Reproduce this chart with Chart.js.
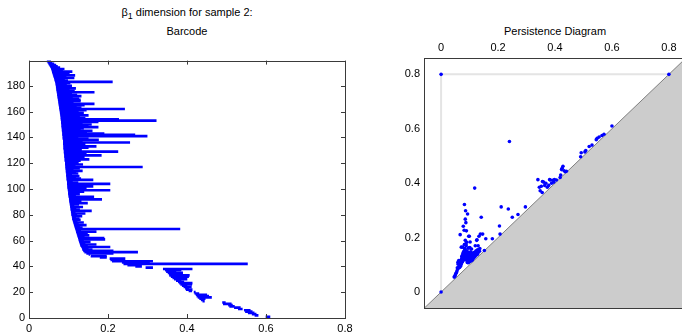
<!DOCTYPE html>
<html>
<head>
<meta charset="utf-8">
<script src="https://cdn.jsdelivr.net/npm/chart.js@4.4.1/dist/chart.umd.min.js"></script>
<style>
  html, body { margin: 0; padding: 0; background: #fff; }
  body { width: 682px; height: 333px; overflow: hidden; position: relative; font-family: "Liberation Sans", Arial, sans-serif; }
  .title { position: absolute; font-size: 11px; color: #000; text-align: center; line-height: 19px; }
  .title sub { font-size: 9px; vertical-align: -3px; line-height: 0; }
  #barBox { position: absolute; left: 0; top: 50px; width: 360px; height: 283px; }
  #pdBox { position: absolute; left: 395px; top: 40px; width: 301px; height: 279px; }
</style>
</head>
<body>
<div class="title" style="left:29px; width:316px; top:3px;">&beta;<sub>1</sub> dimension for sample 2:<br>Barcode</div>
<div class="title" style="left:424px; width:262px; top:22px;">Persistence Diagram</div>
<div id="barBox"><canvas id="barCanvas"></canvas></div>
<div id="pdBox"><canvas id="pdCanvas"></canvas></div>
<script>
// birth / death of each beta_1 interval, bar 1 at the bottom of the barcode
const barBirth = [
  0.600, 0.572, 0.565, 0.555, 0.548, 0.545, 0.530, 0.520, 0.508, 0.505,
  0.492, 0.490, 0.440, 0.436, 0.432, 0.428, 0.425, 0.423, 0.420, 0.418,
  0.405, 0.398, 0.396, 0.392, 0.388, 0.384, 0.381, 0.378, 0.373, 0.368,
  0.364, 0.360, 0.356, 0.355, 0.352, 0.348, 0.345, 0.340, 0.296, 0.270,
  0.250, 0.240, 0.236, 0.211, 0.207, 0.205, 0.180, 0.157, 0.152, 0.146,
  0.141, 0.138, 0.136, 0.135, 0.133, 0.131, 0.130, 0.129, 0.128, 0.127,
  0.126, 0.125, 0.124, 0.123, 0.122, 0.121, 0.120, 0.119, 0.118, 0.117,
  0.116, 0.115, 0.114, 0.113, 0.112, 0.111, 0.110, 0.110, 0.109, 0.108,
  0.108, 0.107, 0.107, 0.106, 0.106, 0.105, 0.105, 0.104, 0.104, 0.103,
  0.103, 0.102, 0.102, 0.101, 0.101, 0.100, 0.100, 0.100, 0.099, 0.099,
  0.098, 0.098, 0.098, 0.097, 0.097, 0.097, 0.096, 0.096, 0.096, 0.095,
  0.095, 0.095, 0.094, 0.094, 0.094, 0.093, 0.093, 0.093, 0.092, 0.092,
  0.092, 0.091, 0.091, 0.091, 0.090, 0.090, 0.090, 0.089, 0.089, 0.089,
  0.088, 0.088, 0.088, 0.088, 0.087, 0.087, 0.087, 0.087, 0.086, 0.086,
  0.086, 0.085, 0.085, 0.085, 0.084, 0.084, 0.084, 0.083, 0.083, 0.083,
  0.082, 0.082, 0.082, 0.081, 0.081, 0.081, 0.080, 0.080, 0.079, 0.079,
  0.078, 0.078, 0.077, 0.077, 0.076, 0.076, 0.075, 0.075, 0.074, 0.074,
  0.073, 0.073, 0.072, 0.072, 0.071, 0.071, 0.070, 0.070, 0.069, 0.069,
  0.068, 0.068, 0.067, 0.066, 0.065, 0.064, 0.063, 0.062, 0.061, 0.060,
  0.059, 0.058, 0.057, 0.056, 0.054, 0.052, 0.050, 0.048, 0.046
];
const barDeath = [
  0.610, 0.580, 0.575, 0.570, 0.565, 0.560, 0.540, 0.535, 0.520, 0.515,
  0.512, 0.497, 0.444, 0.442, 0.446, 0.462, 0.455, 0.450, 0.430, 0.421,
  0.412, 0.413, 0.404, 0.411, 0.400, 0.412, 0.413, 0.392, 0.385, 0.400,
  0.392, 0.404, 0.406, 0.366, 0.389, 0.372, 0.385, 0.413, 0.313, 0.285,
  0.275, 0.553, 0.305, 0.313, 0.213, 0.243, 0.196, 0.196, 0.153, 0.213,
  0.275, 0.213, 0.160, 0.150, 0.205, 0.148, 0.170, 0.142, 0.155, 0.138,
  0.192, 0.190, 0.140, 0.152, 0.135, 0.148, 0.170, 0.131, 0.382, 0.135,
  0.128, 0.145, 0.125, 0.138, 0.122, 0.130, 0.127, 0.118, 0.134, 0.121,
  0.142, 0.117, 0.158, 0.128, 0.119, 0.136, 0.114, 0.126, 0.148, 0.115,
  0.132, 0.184, 0.122, 0.164, 0.118, 0.128, 0.112, 0.139, 0.205, 0.121,
  0.145, 0.162, 0.113, 0.205, 0.124, 0.110, 0.162, 0.131, 0.118, 0.127,
  0.108, 0.124, 0.119, 0.135, 0.112, 0.128, 0.287, 0.117, 0.136, 0.125,
  0.109, 0.130, 0.152, 0.121, 0.140, 0.183, 0.126, 0.145, 0.225, 0.133,
  0.118, 0.150, 0.170, 0.128, 0.142, 0.255, 0.135, 0.176, 0.150, 0.124,
  0.299, 0.268, 0.190, 0.146, 0.160, 0.130, 0.138, 0.175, 0.150, 0.158,
  0.135, 0.175, 0.322, 0.227, 0.142, 0.128, 0.150, 0.118, 0.138, 0.125,
  0.145, 0.242, 0.132, 0.120, 0.140, 0.165, 0.112, 0.130, 0.130, 0.126,
  0.110, 0.132, 0.121, 0.108, 0.165, 0.115, 0.102, 0.118, 0.099, 0.108,
  0.095, 0.104, 0.211, 0.098, 0.090, 0.114, 0.094, 0.116, 0.088, 0.102,
  0.109, 0.085, 0.089, 0.078, 0.072, 0.068, 0.063, 0.058, 0.055
];

// guide drawn in the persistence diagram (corner markers + light lines)
const guideX = [0, 0, 0.8];
const guideY = [0, 0.8, 0.8];

const barXTicks = [0, 0.2, 0.4, 0.6, 0.8];
const barYTicks = [0, 20, 40, 60, 80, 100, 120, 140, 160, 180];
const pdTicks = [0, 0.2, 0.4, 0.6, 0.8];
const pdMin = -0.06, pdMax = 0.86;

const tickFont = { family: '"Liberation Sans", Arial, sans-serif', size: 11 };
const blue = '#0000ff';

// box round the axes, with optional inward tick marks (matlab style)
function axesBox(withTicks) {
  return {
    id: 'axesBox',
    afterDraw(chart) {
      const { ctx, chartArea: a, scales } = chart;
      ctx.save();
      ctx.strokeStyle = '#3a3a3a';
      ctx.lineWidth = 1;
      ctx.strokeRect(Math.round(a.left) + 0.5, Math.round(a.top) + 0.5,
                     Math.round(a.right - a.left), Math.round(a.bottom - a.top));
      if (withTicks) {
        const len = 4;
        ctx.beginPath();
        scales.x.ticks.forEach(t => {
          const px = Math.round(scales.x.getPixelForValue(t.value)) + 0.5;
          ctx.moveTo(px, a.bottom); ctx.lineTo(px, a.bottom - len);
          ctx.moveTo(px, a.top); ctx.lineTo(px, a.top + len);
        });
        scales.y.ticks.forEach(t => {
          const py = Math.round(scales.y.getPixelForValue(t.value)) + 0.5;
          ctx.moveTo(a.left, py); ctx.lineTo(a.left + len, py);
          ctx.moveTo(a.right, py); ctx.lineTo(a.right - len, py);
        });
        ctx.stroke();
      }
      ctx.restore();
    }
  };
}

function fixedTicks(list) {
  return s => { s.ticks = list.map(v => ({ value: v })); };
}

// barcode
new Chart(document.getElementById('barCanvas'), {
  type: 'bar',
  data: {
    datasets: [{
      data: barBirth.map((b, i) => ({ x: [b, barDeath[i]], y: i + 1 })),
      backgroundColor: blue,
      borderWidth: 0,
      barThickness: 2
    }]
  },
  options: {
    indexAxis: 'y',
    responsive: true,
    maintainAspectRatio: false,
    animation: false,
    layout: { padding: { top: 7, right: 15, left: 0, bottom: 0 } },
    plugins: { legend: { display: false }, tooltip: { enabled: false } },
    scales: {
      x: {
        type: 'linear', min: 0, max: 0.8,
        afterBuildTicks: fixedTicks(barXTicks),
        afterFit: s => { s.height = 15; },
        grid: { display: false, drawTicks: false },
        border: { display: false },
        ticks: { padding: 4, color: '#000', font: tickFont, maxRotation: 0, callback: v => String(v) }
      },
      y: {
        type: 'linear', min: 0, max: 199.5, offset: false,
        afterBuildTicks: fixedTicks(barYTicks),
        afterFit: s => { s.width = 29; },
        grid: { display: false, drawTicks: false, offset: false },
        border: { display: false },
        ticks: { padding: 4, color: '#000', font: tickFont, callback: v => String(v) }
      }
    }
  },
  plugins: [axesBox(true)]
});

// persistence diagram
new Chart(document.getElementById('pdCanvas'), {
  type: 'scatter',
  data: {
    datasets: [
      {
        data: barBirth.map((b, i) => ({ x: b, y: barDeath[i] })),
        pointRadius: 1.8,
        pointBackgroundColor: blue,
        pointBorderWidth: 0,
        order: 0
      },
      {
        data: guideX.map((x, i) => ({ x: x, y: guideY[i] })),
        showLine: true,
        borderColor: '#e4e4e4',
        borderWidth: 2,
        pointRadius: 1.8,
        pointBackgroundColor: blue,
        pointBorderWidth: 0,
        order: 1
      },
      {
        data: [{ x: pdMin, y: pdMin }, { x: pdMax, y: pdMax }],
        showLine: true,
        fill: 'start',
        backgroundColor: '#cccccc',
        borderColor: '#7f7f7f',
        borderWidth: 1,
        pointRadius: 0,
        order: 2
      }
    ]
  },
  options: {
    responsive: true,
    maintainAspectRatio: false,
    animation: false,
    layout: { padding: { top: 0, right: 10, left: 0, bottom: 0 } },
    plugins: { legend: { display: false }, tooltip: { enabled: false } },
    scales: {
      x: {
        type: 'linear', position: 'top', min: pdMin, max: pdMax,
        afterBuildTicks: fixedTicks(pdTicks),
        afterFit: s => { s.height = 18; },
        grid: { display: false, drawTicks: false },
        border: { display: false },
        ticks: { padding: 3, color: '#000', font: tickFont, maxRotation: 0, callback: v => String(v) }
      },
      y: {
        type: 'linear', min: pdMin, max: pdMax,
        afterBuildTicks: fixedTicks(pdTicks),
        afterFit: s => { s.width = 29; },
        grid: { display: false, drawTicks: false },
        border: { display: false },
        ticks: { padding: 4, color: '#000', font: tickFont, callback: v => String(v) }
      }
    }
  },
  plugins: [axesBox(false)]
});
</script>
</body>
</html>
